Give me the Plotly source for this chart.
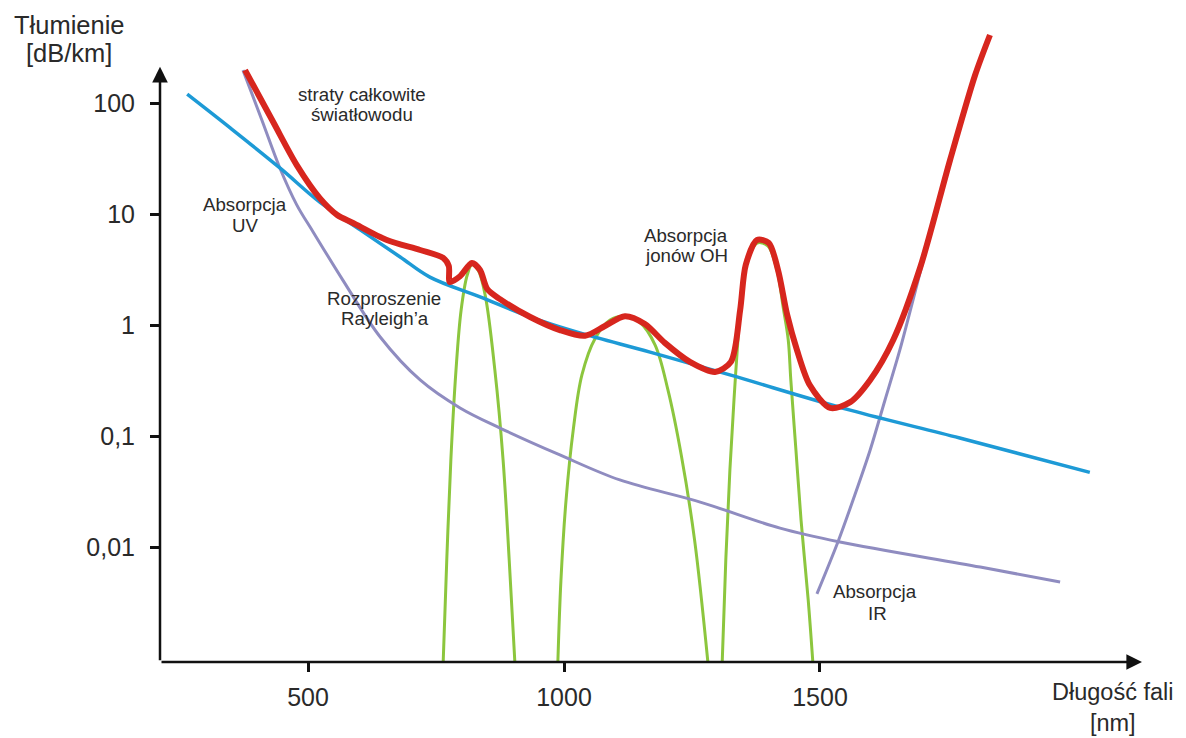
import plotly.graph_objects as go

# ---- data (wavelength in nm, attenuation in dB/km) ----
rayleigh_x = [264, 348, 445, 523, 602, 680, 738, 836, 934, 1031, 1168, 1324, 1559, 1773, 2027]
rayleigh_y = [120, 59.6, 26, 12.8, 7.2, 4.1, 2.7, 1.79, 1.18, 0.85, 0.57, 0.355, 0.171, 0.096, 0.047]

uv_x = [373, 410, 445, 478, 510, 568, 641, 719, 797, 875, 992, 1109, 1266, 1422, 1539, 1813, 1969]
uv_y = [198, 70, 26, 12.1, 6.9, 2.54, 0.78, 0.32, 0.179, 0.118, 0.0675, 0.0402, 0.0254, 0.0148, 0.0111, 0.0066, 0.00484]

ir_x = [1494, 1535, 1568, 1598, 1627, 1656, 1701, 1754, 1803, 1828]
ir_y = [0.00378, 0.0111, 0.0294, 0.0748, 0.211, 0.596, 3.7, 30.6, 178.6, 385]

total_x = [377, 432, 478, 523, 557, 588, 654, 719, 764, 775, 777, 797, 820, 836, 850, 875, 934,
           992, 1041, 1080, 1119, 1158, 1197, 1246, 1295, 1326, 1344, 1355, 1377, 1400, 1418, 1436,
           1455, 1480, 1520, 1559, 1598, 1643, 1696, 1754, 1803, 1832]
total_y = [198, 67.4, 27.6, 13.9, 9.8, 8.3, 5.83, 4.74, 4.02, 3.4, 2.44, 2.75, 3.62, 3.13, 2.11, 1.71, 1.18,
           0.90, 0.80, 0.98, 1.2, 1.02, 0.69, 0.465, 0.378, 0.465, 1.36, 3.48, 5.83, 5.48, 3.13, 1.23,
           0.596, 0.288, 0.179, 0.202, 0.32, 0.733, 3.33, 30.6, 178.6, 410]

peak1_x = [764, 771, 779, 789, 799, 811, 820, 832, 846, 865, 881, 893, 904]
peak1_y = [0.00092, 0.0076, 0.061, 0.39, 1.36, 2.82, 3.48, 3.13, 1.86, 0.39, 0.061, 0.0076, 0.00092]

peak2_x = [988, 994, 1004, 1018, 1035, 1061, 1090, 1119, 1148, 1178, 1203, 1229, 1255, 1281]
peak2_y = [0.00092, 0.0050, 0.0265, 0.113, 0.355, 0.76, 1.11, 1.2, 1.06, 0.66, 0.26, 0.0675, 0.0116, 0.00092]

peak3_x = [1309, 1316, 1324, 1332, 1338, 1346, 1359, 1377, 1398, 1416, 1428, 1438, 1443, 1453, 1463, 1477, 1486]
peak3_y = [0.00092, 0.0076, 0.0494, 0.211, 0.56, 1.68, 3.85, 5.48, 5.15, 3.13, 1.45, 0.733, 0.32, 0.0748, 0.0175, 0.00333, 0.00092]

x_tickvals = [500, 1000, 1500]
x_ticktext = ["500", "1000", "1500"]
y_tickvals = [100, 10, 1, 0.1, 0.01]
y_ticktext = ["100", "10", "1", "0,1", "0,01"]

GREEN = "#8cc63e"
PURPLE = "#8f8cc0"
BLUE = "#1d9ad6"
RED = "#d7261e"
FONT = "Liberation Sans, Arial, sans-serif"
TXT = "#2a2a2a"

fig = go.Figure()
for px_, py_ in [(peak1_x, peak1_y), (peak2_x, peak2_y), (peak3_x, peak3_y)]:
    fig.add_trace(go.Scatter(x=px_, y=py_, mode="lines",
                             line=dict(color=GREEN, width=3, shape="spline", smoothing=1.0)))
fig.add_trace(go.Scatter(x=uv_x, y=uv_y, mode="lines",
                         line=dict(color=PURPLE, width=3, shape="spline", smoothing=1.0)))
fig.add_trace(go.Scatter(x=ir_x, y=ir_y, mode="lines",
                         line=dict(color=PURPLE, width=3, shape="spline", smoothing=0.8)))
fig.add_trace(go.Scatter(x=rayleigh_x, y=rayleigh_y, mode="lines",
                         line=dict(color=BLUE, width=3.5, shape="spline", smoothing=1.0)))
fig.add_trace(go.Scatter(x=total_x, y=total_y, mode="lines",
                         line=dict(color=RED, width=6, shape="spline", smoothing=0.8)))

fig.update_layout(
    width=1186, height=738,
    margin=dict(l=160, r=26, t=20, b=76),
    paper_bgcolor="white", plot_bgcolor="white",
    showlegend=False,
    font=dict(family=FONT, color=TXT, size=25),
    xaxis=dict(range=[210.9, 2164.1], showgrid=False, zeroline=False, showline=False,
               tickvals=x_tickvals, ticktext=x_ticktext, ticks="outside", ticklen=9,
               tickwidth=2.5, tickcolor="#111", tickfont=dict(size=25, color=TXT),
               ticklabelstandoff=4),
    yaxis=dict(type="log", range=[-3.036, 2.748], showgrid=False, zeroline=False, showline=False,
               tickvals=y_tickvals, ticktext=y_ticktext, ticks="outside", ticklen=9,
               tickwidth=2.5, tickcolor="#111", tickfont=dict(size=25, color=TXT),
               ticklabelstandoff=10),
)

# axis lines with arrowheads
fig.add_annotation(x=0.982, y=0, xref="paper", yref="paper", ax=-982, ay=0,
                   text="", showarrow=True, arrowhead=2, arrowsize=1.25, arrowwidth=2.5,
                   arrowcolor="#111")
fig.add_annotation(x=0, y=0.927, xref="paper", yref="paper", ax=0, ay=595,
                   text="", showarrow=True, arrowhead=2, arrowsize=1.25, arrowwidth=2.5,
                   arrowcolor="#111")

def label(text, px, py, size):
    fig.add_annotation(x=(px - 160) / 1000, y=(662 - py) / 642, xref="paper", yref="paper",
                       text=text, showarrow=False, xanchor="center", yanchor="middle",
                       font=dict(family=FONT, size=size, color=TXT))

label("Tłumienie", 69, 25, 25.5)
label("[dB/km]", 69, 53, 25.5)
label("Długość fali<br>[nm]", 1112, 708, 23.5)
label("straty całkowite", 362, 95, 18.7)
label("światłowodu", 362, 114, 18.7)
label("Absorpcja", 245, 204, 18.7)
label("UV", 245, 225, 18.7)
label("Rozproszenie", 384, 298, 18.7)
label("Rayleigh’a", 385, 318, 18.7)
label("Absorpcja", 686, 235, 18.7)
label("jonów OH", 686, 255, 18.7)
label("Absorpcja", 875, 591, 18.7)
label("IR", 877, 613, 18.7)

fig.write_html("out.html")
